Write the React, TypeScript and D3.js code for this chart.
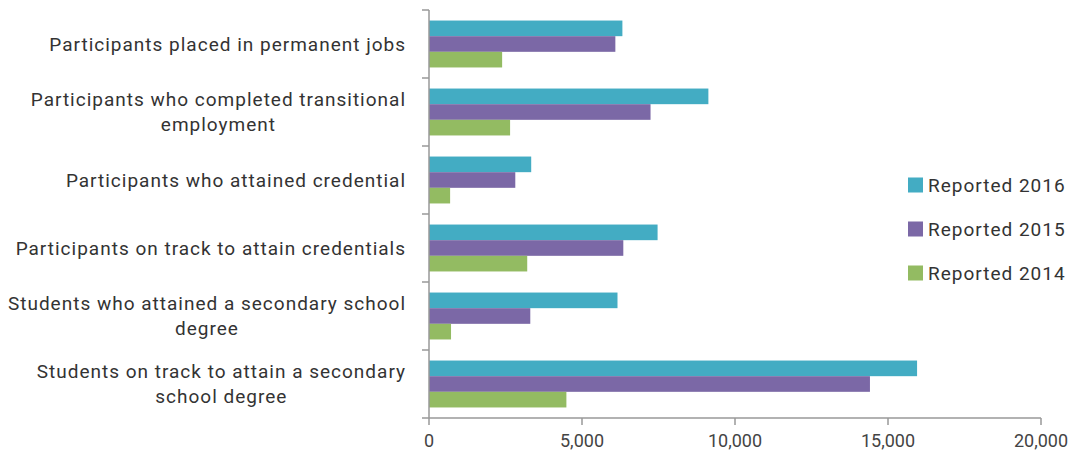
import React from 'react';
import * as d3 from 'd3';

const categories = [
  'Participants placed in permanent jobs',
  'Participants who completed transitional employment',
  'Participants who attained credential',
  'Participants on track to attain credentials',
  'Students who attained a secondary school degree',
  'Students on track to attain a secondary school degree',
];
const seriesNames = ['Reported 2016', 'Reported 2015', 'Reported 2014'];
const reported2016 = [6320, 9130, 3340, 7470, 6160, 15950];
const reported2015 = [6090, 7240, 2820, 6350, 3310, 14410];
const reported2014 = [2390, 2650, 690, 3210, 720, 4490];
const xTicks = [0, 5000, 10000, 15000, 20000];
const colors = ['#43acc3', '#7b68a6', '#93bb62'];

const width = 1075;
const height = 464;
const margin = { top: 10, right: 35, bottom: 46, left: 429 };
const labelSize = 19;
const labelSpacing = 1;

let ctx: CanvasRenderingContext2D | null = null;
const measure = (s: string) => {
  if (!ctx) ctx = document.createElement('canvas').getContext('2d');
  ctx!.font = `${labelSize}px Roboto`;
  return ctx!.measureText(s).width + s.length * labelSpacing;
};

const wrap = (label: string, maxWidth: number) => {
  const words = label.split(' ');
  const lines: string[] = [];
  let line = '';
  words.forEach(w => {
    const test = line ? line + ' ' + w : w;
    if (measure(test) > maxWidth && line) {
      lines.push(line);
      line = w;
    } else line = test;
  });
  lines.push(line);
  return lines;
};

const App = () => {
  const values = [reported2016, reported2015, reported2014];
  const plotW = 1041 - margin.left;
  const plotH = height - margin.top - margin.bottom;

  const x = d3.scaleLinear().domain([0, 20000]).range([0, plotW]);
  const y0 = d3.scaleBand()
    .domain(categories)
    .range([0, plotH])
    .paddingInner(0.31)
    .paddingOuter(0.155);
  const y1 = d3.scaleBand()
    .domain(seriesNames)
    .range([0, y0.bandwidth()]);
  const step = y0.step();
  const fmt = d3.format(',');

  return (
    <svg width={width} height={height} style={{ display: 'block', position: 'absolute', left: 0, top: 0 }}>
      <g transform={`translate(${margin.left},${margin.top})`}>
        {categories.map((c, i) => (
          <g key={c}>
            {seriesNames.map((s, j) => (
              <rect
                key={s}
                x={0}
                y={(y0(c) as number) + (y1(s) as number)}
                width={x(values[j][i])}
                height={y1.bandwidth()}
                fill={colors[j]}
              />
            ))}
          </g>
        ))}
        {/* left axis */}
        <line x1={0} x2={0} y1={0} y2={plotH} stroke="#999" strokeWidth={1.5} />
        {d3.range(categories.length + 1).map(i => (
          <line key={i} x1={-7} x2={0} y1={i * step} y2={i * step} stroke="#999" strokeWidth={1.5} />
        ))}
        {categories.map(c => {
          const lines = wrap(c, 410);
          const cy = (y0(c) as number) + y0.bandwidth() / 2;
          const lh = 25;
          const start = cy - ((lines.length - 1) * lh) / 2;
          const lw = d3.max(lines, measure) as number;
          const cx = -23 - lw / 2;
          return (
            <text key={c} textAnchor="middle" fontFamily="Roboto" fontSize={labelSize}
              letterSpacing={labelSpacing} fill="#333">
              {lines.map((l, k) => (
                <tspan key={k} x={cx} y={start + k * lh} dy="0.35em">{l}</tspan>
              ))}
            </text>
          );
        })}
        {/* bottom axis */}
        <line x1={0} x2={plotW} y1={plotH} y2={plotH} stroke="#999" strokeWidth={1.5} />
        {xTicks.map(t => (
          <g key={t} transform={`translate(${x(t)},${plotH})`}>
            <line y1={0} y2={7} stroke="#999" strokeWidth={1.5} />
            <text y={29} textAnchor="middle" fontFamily="Roboto" fontSize={18} fill="#444">{fmt(t)}</text>
          </g>
        ))}
      </g>
      <g transform="translate(908,185)">
        {seriesNames.map((s, j) => (
          <g key={s} transform={`translate(0,${j * 44})`}>
            <rect x={0} y={-7.5} width={15} height={15} fill={colors[j]} />
            <text x={20} dy="0.35em" fontFamily="Roboto" fontSize={labelSize}
              letterSpacing={labelSpacing} fill="#333">{s}</text>
          </g>
        ))}
      </g>
    </svg>
  );
};

export default App;
